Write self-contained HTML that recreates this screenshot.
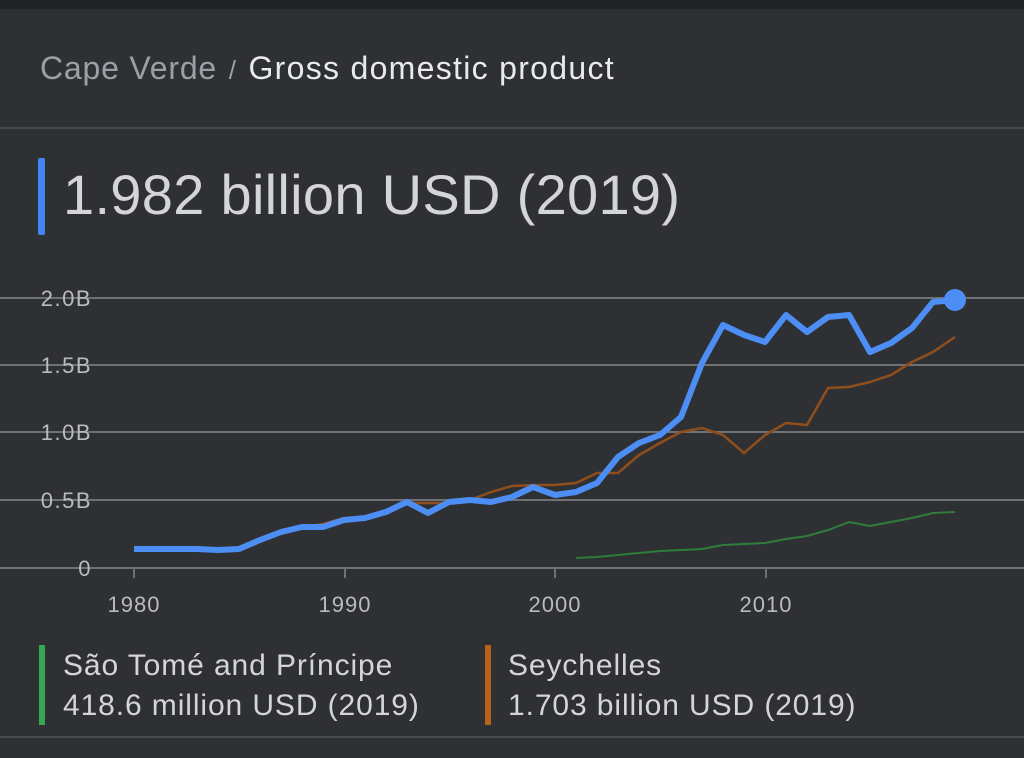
<!DOCTYPE html>
<html><head><meta charset="utf-8"><style>
body{margin:0;width:1024px;height:758px;background:#2f3034;overflow:hidden;font-family:"Liberation Sans",sans-serif;position:relative}
.top{position:absolute;left:0;top:0;width:1024px;height:9px;background:#222327}
.t{position:absolute;white-space:nowrap}
.hr{position:absolute;left:0;width:1024px;height:2px;background:#48494d}
</style></head><body>
<div class="top"></div>
<div class="t" style="left:40px;top:50px;font-size:32px;letter-spacing:0.8px;color:#9aa0a6">Cape Verde <span style="font-size:26px;margin:0 2px">/</span> <span style="color:#e8eaed;letter-spacing:1.3px">Gross domestic product</span></div>
<div class="hr" style="top:127px"></div>
<div style="position:absolute;left:38px;top:158px;width:7px;height:77px;background:#4285f4;border-radius:2px"></div>
<div class="t" style="left:63px;top:162px;font-size:56px;letter-spacing:0.3px;color:#d4d5d8">1.982 billion USD (2019)</div>
<svg style="position:absolute;left:0;top:0" width="1024" height="758">
<g stroke="#6f7175" stroke-width="2">
<line x1="0" y1="298" x2="1024" y2="298"/><line x1="0" y1="365" x2="1024" y2="365"/><line x1="0" y1="432" x2="1024" y2="432"/><line x1="0" y1="500" x2="1024" y2="500"/><line x1="0" y1="568" x2="1024" y2="568"/>
<line x1="134" y1="568" x2="134" y2="578"/><line x1="345" y1="568" x2="345" y2="578"/><line x1="555" y1="568" x2="555" y2="578"/><line x1="766" y1="568" x2="766" y2="578"/>
</g>
<g fill="#b9bbbe" font-size="22" letter-spacing="1.5" font-family="Liberation Sans" text-anchor="end">
<text x="92" y="306">2.0B</text><text x="92" y="373">1.5B</text><text x="92" y="440">1.0B</text><text x="92" y="508">0.5B</text><text x="92" y="576">0</text>
</g>
<g fill="#b9bbbe" font-size="22" letter-spacing="1" font-family="Liberation Sans" text-anchor="middle">
<text x="134" y="612">1980</text><text x="345" y="612">1990</text><text x="555" y="612">2000</text><text x="766" y="612">2010</text>
</g>
<polyline fill="none" stroke="#2f7d3a" stroke-width="2" points="576,558 597,557 618,555 639,553 660,551 681,550 702,549 723,545 744,544 765,543 786,539 807,536 828,530 849,522 870,526 891,522 912,518 933,513 955,512"/>
<polyline fill="none" stroke="#8f4f1c" stroke-width="2.5" points="239,548 260,540 281,532 302,527 323,524 344,518 365,517 386,510 407,503 428,503 449,503 470,500 491,492 512,486 533,485 555,485 576,483 597,473 618,473 639,455 660,443 681,432 702,428 723,435 744,453 765,435 786,423 807,425 828,388 849,387 870,382 891,375 912,362 933,352 955,337"/>
<polyline fill="none" stroke="#4d8ef5" stroke-width="6" stroke-linejoin="round" points="134,549 155,549 176,549 197,549 218,550 239,549 260,540 281,532 302,527 323,527 344,520 365,518 386,512 407,502 428,513 449,502 470,500 491,502 512,497 533,487 555,495 576,492 597,483 618,457 639,443 660,435 681,417 702,363 723,325 744,335 765,342 786,315 807,332 828,317 849,315 870,352 891,343 912,328 933,302 955,300"/>
<circle cx="955" cy="300" r="11" fill="#4d8ef5"/>
</svg>
<div style="position:absolute;left:39px;top:645px;width:6px;height:80px;background:#34a853"></div>
<div class="t" style="left:63px;top:646px;font-size:30px;letter-spacing:0.9px;color:#d4d5d8;line-height:40px">São Tomé and Príncipe<br>418.6 million USD (2019)</div>
<div style="position:absolute;left:485px;top:645px;width:6px;height:80px;background:#b5631c"></div>
<div class="t" style="left:508px;top:646px;font-size:30px;letter-spacing:0.9px;color:#d4d5d8;line-height:40px">Seychelles<br>1.703 billion USD (2019)</div>
<div class="hr" style="top:736px"></div>
</body></html>
